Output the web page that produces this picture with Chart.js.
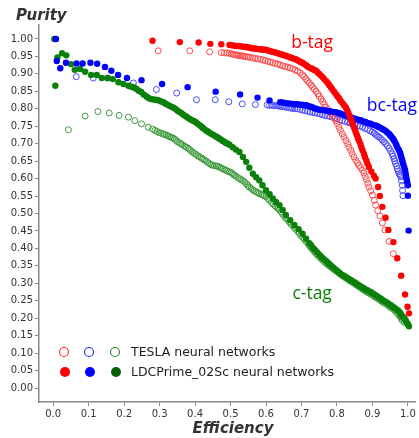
<!DOCTYPE html>
<html>
<head>
<meta charset="utf-8">
<script src="https://cdn.jsdelivr.net/npm/chart.js@4.4.1/dist/chart.umd.min.js"></script>
<style>
  html, body { margin: 0; padding: 0; background: #fff; }
  #wrap { width: 419px; height: 438px; }
</style>
</head>
<body>
<div id="wrap"><canvas id="c" width="419" height="438"></canvas></div>
<script>
// efficiency / purity pairs
const teslaB = [[0.296,0.966],[0.385,0.966],[0.441,0.963],[0.474,0.961],[0.482,0.96],[0.49,0.96],[0.496,0.959],[0.502,0.958],[0.507,0.956],[0.512,0.955],[0.517,0.954],[0.521,0.953],[0.526,0.952],[0.53,0.952],[0.535,0.951],[0.539,0.95],[0.545,0.949],[0.55,0.948],[0.556,0.947],[0.563,0.946],[0.57,0.944],[0.577,0.943],[0.584,0.942],[0.591,0.94],[0.598,0.938],[0.605,0.936],[0.612,0.934],[0.619,0.932],[0.626,0.93],[0.633,0.928],[0.64,0.926],[0.647,0.923],[0.654,0.921],[0.661,0.919],[0.668,0.917],[0.675,0.915],[0.682,0.911],[0.689,0.908],[0.696,0.903],[0.703,0.897],[0.708,0.892],[0.712,0.886],[0.717,0.88],[0.722,0.874],[0.727,0.868],[0.731,0.862],[0.736,0.856],[0.741,0.85],[0.746,0.843],[0.75,0.836],[0.755,0.828],[0.76,0.82],[0.765,0.812],[0.769,0.804],[0.774,0.798],[0.778,0.792],[0.783,0.786],[0.787,0.779],[0.792,0.773],[0.797,0.766],[0.801,0.757],[0.806,0.747],[0.81,0.738],[0.815,0.728],[0.82,0.719],[0.825,0.709],[0.83,0.7],[0.834,0.69],[0.839,0.681],[0.843,0.671],[0.848,0.662],[0.853,0.652],[0.858,0.645],[0.862,0.638],[0.867,0.631],[0.872,0.624],[0.876,0.616],[0.88,0.606],[0.883,0.597],[0.887,0.586],[0.89,0.576],[0.895,0.565],[0.9,0.553],[0.905,0.538],[0.909,0.524],[0.915,0.508],[0.921,0.493],[0.928,0.473],[0.935,0.453],[0.947,0.42],[0.959,0.385]];
const teslaBC = [[0.065,0.892],[0.113,0.888],[0.153,0.888],[0.226,0.874],[0.291,0.855],[0.348,0.845],[0.404,0.826],[0.457,0.826],[0.495,0.82],[0.533,0.814],[0.57,0.812],[0.603,0.811],[0.61,0.81],[0.616,0.81],[0.622,0.809],[0.628,0.809],[0.634,0.808],[0.64,0.807],[0.646,0.806],[0.652,0.806],[0.658,0.804],[0.664,0.803],[0.67,0.802],[0.675,0.801],[0.682,0.8],[0.689,0.8],[0.696,0.798],[0.703,0.796],[0.71,0.795],[0.717,0.793],[0.724,0.791],[0.731,0.79],[0.738,0.788],[0.745,0.787],[0.752,0.785],[0.759,0.783],[0.766,0.781],[0.773,0.78],[0.78,0.778],[0.787,0.776],[0.794,0.773],[0.801,0.771],[0.808,0.768],[0.815,0.766],[0.822,0.764],[0.83,0.762],[0.837,0.759],[0.844,0.757],[0.851,0.754],[0.858,0.752],[0.865,0.75],[0.872,0.747],[0.879,0.744],[0.886,0.741],[0.893,0.737],[0.9,0.733],[0.905,0.73],[0.909,0.726],[0.914,0.723],[0.918,0.719],[0.923,0.715],[0.928,0.71],[0.933,0.705],[0.937,0.7],[0.942,0.694],[0.947,0.687],[0.951,0.679],[0.956,0.671],[0.958,0.664],[0.961,0.657],[0.963,0.65],[0.965,0.643],[0.968,0.636],[0.97,0.628],[0.973,0.621],[0.975,0.614],[0.978,0.61],[0.98,0.605],[0.982,0.593],[0.984,0.581],[0.985,0.566],[0.986,0.551]];
const teslaC = [[0.043,0.74],[0.09,0.779],[0.126,0.792],[0.158,0.788],[0.186,0.781],[0.212,0.776],[0.23,0.766],[0.249,0.757],[0.268,0.747],[0.28,0.742],[0.287,0.738],[0.293,0.735],[0.298,0.732],[0.304,0.73],[0.31,0.728],[0.315,0.726],[0.32,0.724],[0.324,0.722],[0.328,0.72],[0.333,0.718],[0.338,0.716],[0.342,0.713],[0.346,0.71],[0.35,0.706],[0.355,0.703],[0.36,0.7],[0.364,0.697],[0.37,0.693],[0.375,0.69],[0.38,0.687],[0.384,0.684],[0.388,0.68],[0.393,0.676],[0.398,0.672],[0.403,0.669],[0.408,0.665],[0.413,0.662],[0.418,0.659],[0.422,0.656],[0.427,0.653],[0.432,0.65],[0.436,0.646],[0.441,0.643],[0.445,0.64],[0.45,0.638],[0.455,0.637],[0.46,0.636],[0.464,0.635],[0.469,0.633],[0.474,0.63],[0.478,0.628],[0.483,0.626],[0.487,0.624],[0.492,0.621],[0.497,0.619],[0.502,0.617],[0.506,0.614],[0.51,0.61],[0.515,0.607],[0.52,0.603],[0.525,0.6],[0.53,0.597],[0.535,0.594],[0.54,0.59],[0.545,0.585],[0.549,0.58],[0.553,0.576],[0.558,0.572],[0.562,0.568],[0.567,0.565],[0.572,0.562],[0.577,0.56],[0.581,0.557],[0.586,0.555],[0.59,0.553],[0.595,0.551],[0.6,0.548],[0.605,0.543],[0.61,0.538],[0.615,0.532],[0.62,0.527],[0.625,0.522],[0.63,0.518],[0.634,0.514],[0.638,0.51],[0.643,0.504],[0.647,0.498],[0.652,0.492],[0.656,0.487],[0.661,0.481],[0.666,0.476],[0.67,0.47],[0.675,0.465],[0.68,0.46],[0.684,0.455],[0.689,0.449],[0.694,0.443],[0.698,0.437],[0.703,0.432],[0.708,0.426],[0.713,0.42],[0.718,0.414],[0.722,0.408],[0.727,0.402],[0.731,0.397],[0.736,0.391],[0.74,0.386],[0.745,0.381],[0.75,0.376],[0.755,0.371],[0.76,0.366],[0.765,0.361],[0.77,0.357],[0.775,0.353],[0.78,0.349],[0.785,0.345],[0.79,0.341],[0.795,0.337],[0.8,0.334],[0.805,0.33],[0.81,0.326],[0.815,0.322],[0.82,0.319],[0.825,0.315],[0.83,0.312],[0.835,0.308],[0.84,0.305],[0.845,0.302],[0.85,0.299],[0.855,0.295],[0.86,0.292],[0.865,0.288],[0.87,0.285],[0.875,0.281],[0.88,0.278],[0.885,0.275],[0.89,0.272],[0.895,0.269],[0.9,0.266],[0.905,0.262],[0.91,0.259],[0.915,0.256],[0.92,0.253],[0.925,0.249],[0.93,0.246],[0.935,0.243],[0.94,0.24],[0.945,0.236],[0.95,0.232],[0.955,0.229],[0.96,0.225],[0.965,0.22],[0.97,0.214],[0.974,0.21],[0.978,0.205],[0.981,0.2],[0.984,0.194],[0.99,0.188]];
const ldcB = [[0.28,0.995],[0.357,0.991],[0.41,0.99],[0.443,0.986],[0.474,0.985],[0.497,0.983],[0.503,0.982],[0.51,0.981],[0.515,0.98],[0.521,0.98],[0.528,0.979],[0.535,0.978],[0.54,0.977],[0.545,0.977],[0.549,0.976],[0.553,0.975],[0.558,0.974],[0.562,0.973],[0.567,0.973],[0.572,0.972],[0.577,0.971],[0.581,0.971],[0.586,0.97],[0.59,0.97],[0.595,0.969],[0.6,0.969],[0.605,0.967],[0.61,0.966],[0.615,0.964],[0.619,0.963],[0.624,0.962],[0.628,0.961],[0.633,0.959],[0.637,0.958],[0.642,0.956],[0.647,0.955],[0.651,0.953],[0.656,0.952],[0.661,0.95],[0.666,0.948],[0.67,0.946],[0.675,0.945],[0.68,0.943],[0.684,0.942],[0.689,0.939],[0.694,0.936],[0.698,0.934],[0.703,0.932],[0.708,0.928],[0.713,0.925],[0.717,0.921],[0.722,0.918],[0.727,0.916],[0.731,0.914],[0.736,0.911],[0.741,0.909],[0.745,0.905],[0.75,0.9],[0.755,0.895],[0.76,0.89],[0.764,0.885],[0.769,0.88],[0.774,0.874],[0.778,0.868],[0.783,0.862],[0.787,0.856],[0.792,0.849],[0.797,0.842],[0.801,0.836],[0.806,0.83],[0.81,0.823],[0.815,0.817],[0.82,0.81],[0.825,0.804],[0.829,0.796],[0.832,0.789],[0.835,0.781],[0.838,0.773],[0.841,0.765],[0.844,0.757],[0.847,0.749],[0.85,0.741],[0.853,0.733],[0.856,0.725],[0.859,0.717],[0.862,0.709],[0.866,0.7],[0.869,0.69],[0.872,0.681],[0.876,0.671],[0.879,0.662],[0.883,0.652],[0.886,0.643],[0.89,0.633],[0.897,0.62],[0.904,0.608],[0.909,0.6],[0.916,0.576],[0.921,0.55],[0.928,0.519],[0.937,0.488],[0.945,0.453],[0.959,0.418],[0.97,0.372],[0.981,0.322],[0.992,0.268],[0.999,0.233],[1.003,0.214]];
const ldcBC = [[0.008,1.0],[0.01,0.937],[0.02,0.916],[0.036,0.932],[0.066,0.93],[0.083,0.93],[0.105,0.932],[0.124,0.929],[0.146,0.92],[0.164,0.909],[0.183,0.897],[0.208,0.888],[0.249,0.882],[0.307,0.871],[0.379,0.862],[0.458,0.849],[0.527,0.841],[0.576,0.832],[0.61,0.824],[0.64,0.819],[0.648,0.818],[0.657,0.816],[0.666,0.815],[0.675,0.814],[0.682,0.813],[0.688,0.813],[0.694,0.812],[0.699,0.812],[0.704,0.811],[0.708,0.81],[0.713,0.81],[0.717,0.809],[0.723,0.807],[0.729,0.805],[0.735,0.802],[0.741,0.8],[0.748,0.798],[0.755,0.797],[0.762,0.796],[0.769,0.795],[0.776,0.793],[0.783,0.792],[0.79,0.791],[0.797,0.79],[0.804,0.788],[0.811,0.786],[0.818,0.783],[0.825,0.781],[0.832,0.778],[0.839,0.776],[0.846,0.773],[0.853,0.771],[0.86,0.769],[0.867,0.767],[0.874,0.764],[0.881,0.762],[0.888,0.759],[0.895,0.757],[0.902,0.754],[0.909,0.752],[0.914,0.75],[0.918,0.748],[0.923,0.745],[0.928,0.742],[0.933,0.739],[0.938,0.736],[0.942,0.732],[0.947,0.728],[0.95,0.724],[0.954,0.719],[0.958,0.714],[0.961,0.709],[0.965,0.702],[0.968,0.695],[0.971,0.688],[0.975,0.681],[0.978,0.674],[0.98,0.667],[0.982,0.66],[0.984,0.652],[0.986,0.645],[0.988,0.638],[0.99,0.631],[0.992,0.624],[0.994,0.614],[0.995,0.605],[0.997,0.597],[0.998,0.59],[1.0,0.581],[1.0,0.551],[1.002,0.451]];
const ldcC = [[0.003,1.0],[0.006,0.866],[0.012,0.947],[0.025,0.959],[0.037,0.953],[0.05,0.928],[0.061,0.912],[0.076,0.914],[0.09,0.906],[0.107,0.897],[0.123,0.897],[0.137,0.888],[0.154,0.888],[0.168,0.885],[0.184,0.876],[0.198,0.871],[0.212,0.866],[0.218,0.864],[0.225,0.862],[0.23,0.86],[0.235,0.857],[0.241,0.852],[0.248,0.848],[0.255,0.841],[0.263,0.835],[0.269,0.831],[0.275,0.828],[0.281,0.827],[0.288,0.826],[0.294,0.825],[0.3,0.823],[0.306,0.82],[0.312,0.818],[0.318,0.814],[0.325,0.81],[0.331,0.807],[0.338,0.804],[0.344,0.8],[0.35,0.795],[0.356,0.791],[0.362,0.787],[0.368,0.782],[0.375,0.778],[0.38,0.774],[0.385,0.771],[0.39,0.768],[0.396,0.765],[0.401,0.762],[0.406,0.758],[0.413,0.753],[0.418,0.749],[0.422,0.745],[0.427,0.741],[0.432,0.737],[0.437,0.734],[0.441,0.731],[0.446,0.728],[0.45,0.726],[0.455,0.723],[0.46,0.72],[0.465,0.717],[0.469,0.714],[0.474,0.711],[0.478,0.708],[0.483,0.705],[0.487,0.702],[0.492,0.7],[0.497,0.697],[0.506,0.69],[0.515,0.683],[0.525,0.676],[0.535,0.662],[0.544,0.648],[0.553,0.631],[0.563,0.614],[0.572,0.604],[0.581,0.595],[0.59,0.581],[0.6,0.567],[0.61,0.555],[0.619,0.543],[0.628,0.533],[0.638,0.524],[0.647,0.51],[0.656,0.496],[0.668,0.481],[0.68,0.467],[0.692,0.455],[0.703,0.442],[0.713,0.428],[0.722,0.415],[0.727,0.409],[0.731,0.403],[0.736,0.398],[0.74,0.393],[0.745,0.388],[0.75,0.382],[0.755,0.377],[0.76,0.372],[0.765,0.368],[0.77,0.363],[0.775,0.358],[0.78,0.354],[0.785,0.349],[0.79,0.345],[0.797,0.339],[0.801,0.335],[0.806,0.331],[0.81,0.327],[0.815,0.324],[0.82,0.321],[0.825,0.318],[0.83,0.315],[0.835,0.312],[0.84,0.309],[0.844,0.306],[0.849,0.303],[0.853,0.3],[0.858,0.297],[0.862,0.294],[0.867,0.291],[0.872,0.288],[0.876,0.285],[0.881,0.282],[0.886,0.28],[0.89,0.277],[0.895,0.275],[0.9,0.272],[0.905,0.268],[0.91,0.265],[0.915,0.262],[0.92,0.258],[0.925,0.255],[0.93,0.251],[0.935,0.248],[0.94,0.245],[0.944,0.242],[0.948,0.239],[0.952,0.237],[0.956,0.234],[0.96,0.231],[0.964,0.228],[0.968,0.225],[0.972,0.222],[0.975,0.219],[0.978,0.215],[0.981,0.21],[0.984,0.206],[0.987,0.203],[0.99,0.199],[0.993,0.195],[0.995,0.19],[0.998,0.186],[1.0,0.183],[1.003,0.177]];

const legendLabels = ['TESLA neural networks', 'LDCPrime_02Sc neural networks'];
const tagLabels = [
  { text: 'b-tag', x: 0.73, y: 0.975, color: '#ff0000' },
  { text: 'bc-tag', x: 0.955, y: 0.795, color: '#0000ff' },
  { text: 'c-tag', x: 0.73, y: 0.254, color: '#0a800a' }
];

const toPts = arr => arr.map(p => ({ x: p[0], y: p[1] }));

const openSet = (data, color) => ({
  data: toPts(data), showLine: false, order: 2,
  pointRadius: 3, pointHoverRadius: 3, pointBorderWidth: 1,
  pointBorderColor: color, pointBackgroundColor: 'rgba(255,255,255,0)'
});
const fillSet = (data, color) => ({
  data: toPts(data), showLine: false, order: 1,
  pointRadius: 3.2, pointHoverRadius: 3.2, pointBorderWidth: 0,
  pointBorderColor: color, pointBackgroundColor: color
});

const FONT = 'DejaVu Sans';

// texts: axis titles, curve tags, the two-row legend
const decorations = {
  id: 'decorations',
  afterDraw(chart) {
    const ctx = chart.ctx;
    const xs = chart.scales.x, ys = chart.scales.y;
    ctx.save();
    ctx.fillStyle = '#333';
    ctx.font = 'italic bold 15px ' + FONT;
    ctx.textBaseline = 'alphabetic';
    ctx.textAlign = 'left';
    ctx.fillText('Purity', 16, 20);
    ctx.textAlign = 'center';
    ctx.fillText('Efficiency', 233, 433);

    ctx.font = '17.5px "Open Sans"';
    tagLabels.forEach(t => {
      ctx.fillStyle = t.color;
      ctx.fillText(t.text, xs.getPixelForValue(t.x), ys.getPixelForValue(t.y));
    });

    // legend
    const cols = [64, 89, 115];
    const openCols = ['#ff3030', '#3030ff', '#2e8b2e'];
    const fillCols = ['#ff0000', '#0000ff', '#075f07'];
    const rows = [352, 372];
    cols.forEach((cx, i) => {
      ctx.beginPath();
      ctx.arc(cx, rows[0], 4.5, 0, Math.PI * 2);
      ctx.strokeStyle = openCols[i];
      ctx.lineWidth = 1.2;
      ctx.stroke();
      ctx.beginPath();
      ctx.arc(cx + 1, rows[1], 5, 0, Math.PI * 2);
      ctx.fillStyle = fillCols[i];
      ctx.fill();
    });
    ctx.fillStyle = '#222';
    ctx.font = '12.5px ' + FONT;
    ctx.textAlign = 'left';
    ctx.textBaseline = 'middle';
    ctx.fillText(legendLabels[0], 131, rows[0] + 1);
    ctx.fillText(legendLabels[1], 131, rows[1] + 1);
    ctx.restore();
  }
};

new Chart(document.getElementById('c').getContext('2d'), {
  type: 'scatter',
  data: {
    datasets: [
      openSet(teslaB, '#ff4a4a'),
      openSet(teslaBC, '#4a4aff'),
      openSet(teslaC, '#3c9a3c'),
      fillSet(ldcB, '#ff0000'),
      fillSet(ldcBC, '#0000ff'),
      fillSet(ldcC, '#0a800a')
    ]
  },
  options: {
    responsive: false,
    animation: false,
    layout: { padding: { top: 25, right: 3, left: 0, bottom: 0 } },
    plugins: { legend: { display: false }, tooltip: { enabled: false } },
    scales: {
      x: {
        type: 'linear', min: -0.04, max: 1.02,
        afterFit: s => { s.height = 36; s.paddingLeft = 0; s.paddingRight = 0; },
        afterBuildTicks: s => {
          const t = [];
          for (let i = 0; i <= 10; i++) t.push({ value: i / 10 });
          s.ticks = t;
        },
        ticks: { color: '#333', font: { family: FONT, size: 10 }, padding: 2, maxRotation: 0,
          callback: v => v.toFixed(1) },
        grid: { drawOnChartArea: false, tickLength: 4, color: '#888' },
        border: { color: '#888', width: 1.5 }
      },
      y: {
        type: 'linear', min: -0.04, max: 1.04,
        afterFit: s => { s.width = 39; s.paddingTop = 0; s.paddingBottom = 0; },
        afterBuildTicks: s => {
          const t = [];
          for (let i = 0; i <= 20; i++) t.push({ value: i / 20 });
          s.ticks = t;
        },
        ticks: { color: '#333', font: { family: FONT, size: 10 }, padding: 2,
          callback: v => v.toFixed(2) },
        grid: { drawOnChartArea: false, tickLength: 4, color: '#888' },
        border: { color: '#888', width: 1.5 }
      }
    }
  },
  plugins: [decorations]
});
</script>
</body>
</html>
